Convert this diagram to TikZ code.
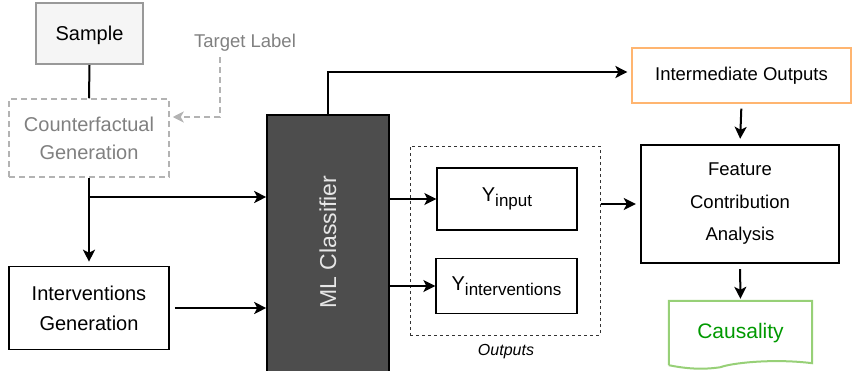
\documentclass[tikz,border=0pt]{standalone}
\usepackage{fontspec}
\setmainfont{Liberation Sans}
\usetikzlibrary{arrows.meta,calc}

\definecolor{samplefill}{HTML}{F5F5F5}
\definecolor{sampleline}{HTML}{999999}
\definecolor{ghostline}{HTML}{B3B3B3}
\definecolor{ghosttext}{HTML}{808080}
\definecolor{mlfill}{HTML}{4D4D4D}
\definecolor{mltext}{HTML}{E6E6E6}
\definecolor{orangeline}{HTML}{FFB570}
\definecolor{greenline}{HTML}{97D077}
\definecolor{greentext}{HTML}{009900}
\definecolor{dashgray}{HTML}{333333}

\newcommand{\fs}[2]{\fontsize{#1}{#2}\selectfont}
\newcommand{\ysub}[1]{Y{\fs{17}{20}\raisebox{-4.5pt}{#1}}}

\tikzset{
  box/.style={draw=black, line width=1.6pt, inner sep=0pt, align=center,
    text=black, font=\fs{20}{30}},
  conn/.style={draw=black, line width=2pt,
    -{Stealth[length=12pt,width=12pt,inset=3pt]}},
  plain/.style={draw=black, line width=2pt},
  ghostconn/.style={draw=ghostline, line width=1.8pt, dash pattern=on 6pt off 4pt,
    -{Stealth[length=11pt,width=11pt,inset=3pt]}},
}

\begin{document}
\begin{tikzpicture}[x=1pt,y=-1pt]
\useasboundingbox (0,0) rectangle (852,370);

% input side
\node[box, draw=sampleline, fill=samplefill, line width=2pt, text depth=0pt,
      minimum width=107pt, minimum height=61pt] (sample) at (89.5,33.5) {Sample};
\node[box, draw=ghostline, text=ghosttext, line width=1.5pt,
      dash pattern=on 6pt off 4pt, font=\fs{20}{28},
      minimum width=160pt, minimum height=78pt] (cf) at (89,138)
      {Counterfactual\\Generation};
\node[text=ghosttext, font=\fs{18.5}{22}, inner sep=0pt] (tl) at (245,43) {Target Label};
\node[box, minimum width=160pt, minimum height=83pt] (iv) at (89,308)
      {Interventions\\Generation};

% classifier
\node[draw=black, line width=1.6pt, fill=mlfill, minimum width=122pt,
      minimum height=257pt, inner sep=0pt] (ml) at (328,243.5) {};
\node[text=mltext, rotate=90, font=\fs{23}{26}, inner sep=0pt] (mllabel) at (328,242) {ML Classifier};

% outputs group
\node[draw=dashgray, line width=1pt, dash pattern=on 3pt off 3pt,
      minimum width=190pt, minimum height=189pt, inner sep=0pt] (outs) at (505,240.5) {};
\node[font=\fs{16}{18}\itshape, inner sep=0pt] (outlabel) at (506,352) {Outputs};
\node[box, line width=1.3pt, minimum width=140pt, minimum height=62pt] (yin) at (507,199)
      {\ysub{input}};
\node[box, line width=1.3pt, minimum width=141pt, minimum height=55pt] (yiv) at (506.5,286)
      {\ysub{interventions}};

% analysis side
\node[box, draw=orangeline, line width=1.2pt, font=\fs{18.5}{22},
      minimum width=219pt, minimum height=55pt] (im) at (741.5,75.5) {Intermediate Outputs};
\node[box, line width=2.4pt, font=\fs{18.5}{32.5},
      minimum width=198pt, minimum height=118pt] (fca) at (740,204)
      {Feature\\Contribution\\Analysis};
\node[inner sep=0pt, minimum width=143pt, minimum height=65pt,
      text=greentext, font=\fs{21}{24}] (cau) at (740.5,333.5) {Causality};
\draw[greenline, line width=2pt, line join=miter]
  ($(cau.south west)+(0,-1)$) -- (cau.north west) -- (cau.north east)
  -- ($(cau.south east)+(0,-3)$)
  .. controls ($(cau.south east)+(-40,-8)$) and ($(cau.south)+(-10,-3)$) .. ($(cau.south)+(-20,1)$)
  .. controls ($(cau.south)+(-40,4)$) and ($(cau.south west)+(15,2)$) .. ($(cau.south west)+(0,-1)$);

% connectors
\draw[plain] (sample.south) -- (cf.north);
\coordinate (tlout) at (220,57);
\draw[ghostconn] (tlout) |- ([xshift=3pt,yshift=21pt]cf.east);
\draw[conn, shorten >=4pt] (cf.south) -- (iv.north);
\coordinate (branch) at (89,197);
\draw[conn] (branch) -- (branch -| ml.west);
\draw[conn, shorten <=5pt] (iv.east) -- (iv.east -| ml.west);
\draw[conn] (ml.east |- yin.west) -- (yin.west);
\draw[conn] (ml.east |- yiv.west) -- (yiv.west);
\draw[conn, shorten >=4pt] (ml.north) |- ([yshift=3.5pt]im.west);
\draw[conn, shorten >=4pt] (outs.east |- fca.west) -- (fca.west);
\draw[conn, shorten <=5pt, shorten >=5pt] (im.south) -- (fca.north);
\draw[conn, shorten <=5pt, shorten >=2pt] (fca.south) -- (cau.north);
\end{tikzpicture}
\end{document}
